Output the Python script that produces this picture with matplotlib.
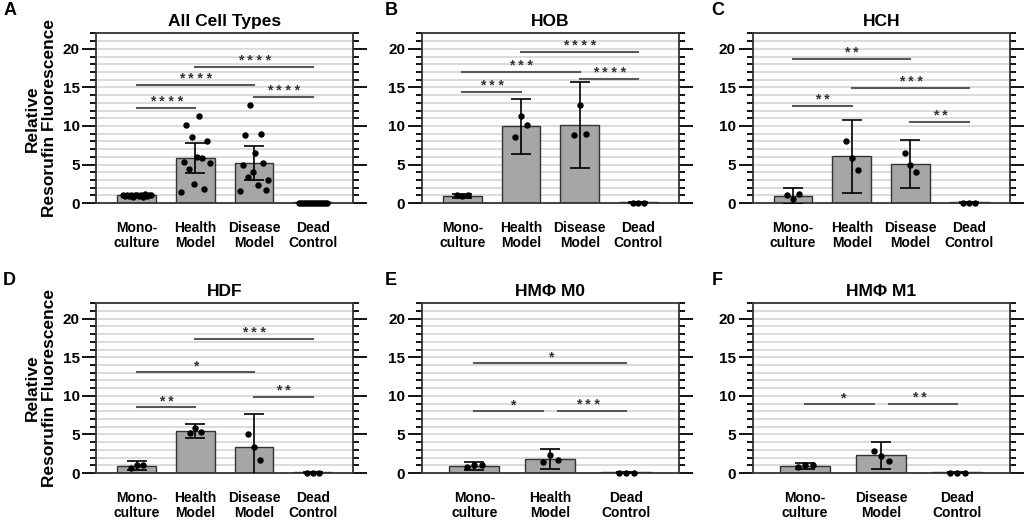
import numpy as np
import matplotlib
matplotlib.use("Agg")
import matplotlib.pyplot as plt
from matplotlib.ticker import MultipleLocator

plt.rcParams['font.family'] = ['Liberation Sans', 'DejaVu Sans']
plt.rcParams['font.weight'] = 'bold'

# ---- data ----
cats_all = ["Mono-\nculture", "Health\nModel", "Disease\nModel", "Dead\nControl"]
cats_m0 = ["Mono-\nculture", "Health\nModel", "Dead\nControl"]
cats_m1 = ["Mono-\nculture", "Disease\nModel", "Dead\nControl"]

titles = ["All Cell Types", "HOB", "HCH", "HDF", "HMΦ M0", "HMΦ M1"]
letters = ["A", "B", "C", "D", "E", "F"]

means_a = [1.0, 5.85, 5.25, 0.1]
sd_a = [0.15, 2.0, 2.2, 0.05]
pts_a = [
    [1.0, 0.9, 1.1, 0.95, 1.05, 0.85, 1.0, 1.1, 0.9, 1.05, 0.8, 1.15, 0.95, 1.0, 1.05],
    [1.5, 5.3, 10.1, 4.4, 8.6, 2.5, 6.0, 11.3, 5.8, 1.8, 8.1, 5.2],
    [1.6, 5.0, 8.8, 3.4, 12.7, 4.0, 6.5, 2.3, 9.0, 5.2, 1.7, 3.0],
    [0.05, 0.08, 0.04, 0.06, 0.03, 0.07, 0.05, 0.04, 0.08, 0.06, 0.05, 0.03, 0.07, 0.04, 0.06],
]
sig_a = [(0, 1, 12.35, "* * * *"), (0, 2, 15.3, "* * * *"),
         (1, 3, 17.6, "* * * *"), (2, 3, 13.7, "* * * *")]

means_b = [0.95, 9.95, 10.15, 0.1]
sd_b = [0.25, 3.55, 5.55, 0.05]
pts_b = [[1.0, 0.9, 1.05], [8.6, 11.3, 10.1], [8.8, 12.7, 9.0], [0.05, 0.08, 0.04]]
sig_b = [(0, 1, 14.4, "* * *"), (0, 2, 16.95, "* * *"),
         (1, 3, 19.6, "* * * *"), (2, 3, 16.1, "* * * *")]

means_c = [0.95, 6.05, 5.1, 0.1]
sd_c = [1.0, 4.75, 3.1, 0.05]
pts_c = [[1.1, 0.55, 1.2], [8.1, 5.8, 4.3], [6.5, 4.9, 4.0], [0.03, 0.05, 0.04]]
sig_c = [(0, 2, 18.7, "* *"), (0, 1, 12.6, "* *"),
         (1, 3, 14.9, "* * *"), (2, 3, 10.5, "* *")]

means_d = [0.92, 5.45, 3.35, 0.1]
sd_d = [0.58, 0.95, 4.3, 0.05]
pts_d = [[0.6, 1.05, 1.0], [5.2, 5.9, 5.3], [5.1, 3.35, 1.65], [0.03, 0.05, 0.04]]
sig_d = [(0, 1, 8.5, "* *"), (0, 2, 13.1, "*"),
         (1, 3, 17.4, "* * *"), (2, 3, 9.9, "* *")]

means_e = [0.9, 1.83, 0.1]
sd_e = [0.47, 1.31, 0.05]
pts_e = [[0.8, 1.1, 1.0], [1.4, 2.4, 1.7], [0.03, 0.05, 0.04]]
sig_e = [(0, 2, 14.2, "*"), (0, 1, 8.05, "*"), (1, 2, 8.05, "* * *")]

means_f = [0.88, 2.28, 0.1]
sd_f = [0.4, 1.76, 0.05]
pts_f = [[0.8, 1.0, 1.05], [2.9, 2.2, 1.55], [0.03, 0.05, 0.04]]
sig_f = [(0, 1, 8.9, "*"), (1, 2, 8.9, "* *")]

panels = [
    (cats_all, means_a, sd_a, pts_a, sig_a),
    (cats_all, means_b, sd_b, pts_b, sig_b),
    (cats_all, means_c, sd_c, pts_c, sig_c),
    (cats_all, means_d, sd_d, pts_d, sig_d),
    (cats_m0, means_e, sd_e, pts_e, sig_e),
    (cats_m1, means_f, sd_f, pts_f, sig_f),
]

fig = plt.figure(figsize=(10.24, 5.21), dpi=100)

lefts = [0.094, 0.412, 0.735]
bottoms = [0.610, 0.092]
w, h = 0.251, 0.326
letter_x = [-0.362, -0.144, -0.16]

for k, (cats, means, sds, pts, sigs) in enumerate(panels):
    row, col = divmod(k, 3)
    ax = fig.add_axes([lefts[col], bottoms[row], w, h])
    n = len(cats)
    x = np.arange(n)

    ax.set_ylim(0, 22)
    ax.set_xlim(-0.69, n - 1 + 0.69)
    for yy in range(1, 22):
        ax.axhline(yy, color='#dcdcdc', lw=1.4, zorder=0)

    ax.bar(x, means, width=0.66, color='#a6a6a6', edgecolor='#333333',
           linewidth=1.0, zorder=2)
    ax.errorbar(x, means, yerr=sds, fmt='none', ecolor='black', elinewidth=1.2,
                capsize=7.5, capthick=1.2, zorder=3)
    for i, p in enumerate(pts):
        m = len(p)
        if m > 3:
            off = np.linspace(-0.24, 0.24, m)
        else:
            off = np.linspace(-0.1, 0.1, m)
        ax.plot(x[i] + off, p, 'o', color='black', ms=3.6, zorder=4, clip_on=False)

    # significance brackets
    for (i, j, yv, lab) in sigs:
        x0, x1 = x[i], x[j]
        for (i2, j2, y2, _) in sigs:
            if y2 == yv and (i2, j2) != (i, j):
                if j2 == i:
                    x0 += 0.1
                if i2 == j:
                    x1 -= 0.1
        ax.plot([x0, x1], [yv, yv], color='#595959', lw=1.5, zorder=3)
        ax.text((x[i] + x[j]) / 2, yv + 0.25, lab, ha='center', va='baseline',
                fontsize=10, color='#333333', fontweight='bold')

    ax.yaxis.set_major_locator(MultipleLocator(5))
    ax.yaxis.set_minor_locator(MultipleLocator(1))
    ax.tick_params(axis='y', which='major', length=10, width=1.3, direction='out',
                   labelsize=11, pad=2, right=True)
    ax.tick_params(axis='y', which='minor', length=4.5, width=1.3, direction='out',
                   right=True)
    ax.tick_params(axis='x', length=0, pad=13, labelsize=10)
    ax.set_xticks(x)
    ax.set_xticklabels(cats, fontweight='bold', linespacing=1.05)
    for t in ax.get_yticklabels():
        t.set_fontweight('bold')
    for s in ax.spines.values():
        s.set_linewidth(1.3)
        s.set_color('#333333')

    ax.set_title(titles[k], fontsize=12.5, fontweight='bold', pad=5)
    if col == 0:
        ax.set_ylabel("Relative\nResorufin Fluorescence", fontsize=12.5,
                      fontweight='bold', labelpad=4, linespacing=1.15)

    ax.text(letter_x[col], 1.135, letters[k], transform=ax.transAxes,
            fontsize=13, fontweight='bold', ha='left', va='center')

fig.savefig("out.png", dpi=100)
